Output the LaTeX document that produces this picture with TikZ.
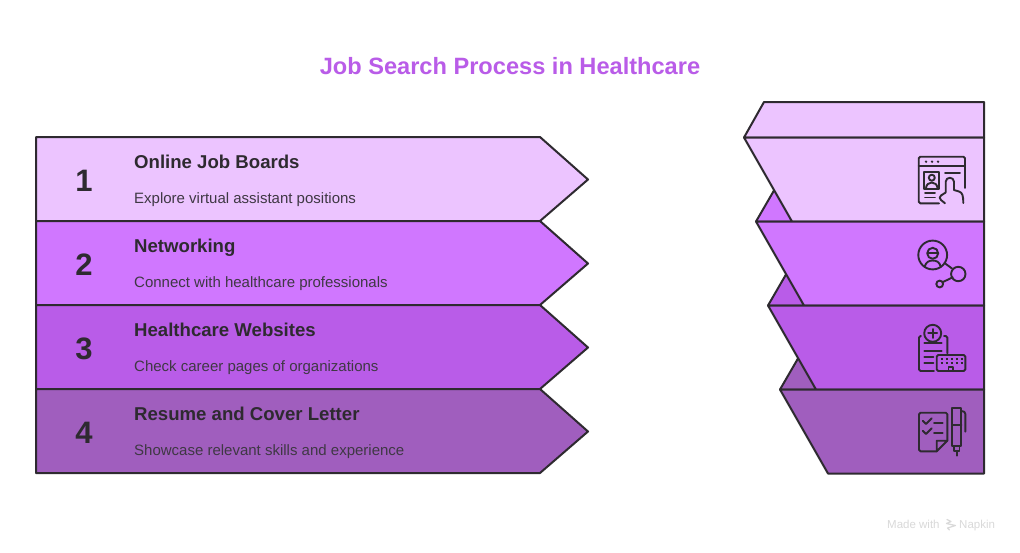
\documentclass[tikz,border=0pt]{standalone}
\usepackage{fontspec}
\setmainfont{Liberation Sans}
\definecolor{inkc}{HTML}{2E2A30}
\definecolor{descc}{HTML}{3F3844}
\definecolor{lvla}{HTML}{ECC4FF}
\definecolor{lvlb}{HTML}{D077FF}
\definecolor{lvlc}{HTML}{B95CE8}
\definecolor{lvld}{HTML}{A05EBE}
\definecolor{titlec}{HTML}{B95CE8}
\definecolor{markc}{HTML}{D9D9D9}
\tikzset{
  x=1pt,y=-1pt,
  band/.style={draw=inkc,line width=2pt,line join=round},
  icon/.style={draw=inkc,line width=1.9pt,line cap=round,line join=round,rounded corners=1.5pt},
  iconsharp/.style={draw=inkc,line width=1.9pt,line cap=round,line join=round},
  heading/.style={anchor=base west,inner sep=0pt,text=inkc,font=\fontsize{18.6}{20}\selectfont\bfseries},
  desc/.style={anchor=base west,inner sep=0pt,text=descc,font=\fontsize{15}{17}\selectfont},
  numeral/.style={anchor=center,inner sep=0pt,text=inkc,font=\fontsize{31}{34}\selectfont\bfseries},
  madewith/.style={anchor=base west,inner sep=0pt,text=markc,font=\fontsize{11.5}{13}\selectfont}
}
\begin{document}
\begin{tikzpicture}
\useasboundingbox (0,0) rectangle (1020,552);
\fill[white] (0,0) rectangle (1020,552);
\node[anchor=center,inner sep=0pt,text=titlec,font=\fontsize{23.6}{28}\selectfont\bfseries] (title) at (510,66) {Job Search Process in Healthcare};

% left arrows
\draw[band,fill=lvla] (36,137)--(540,137)--(588,179.5)--(540,221)--(36,221)--cycle;
\draw[band,fill=lvlb] (36,221)--(540,221)--(588,263.5)--(540,305)--(36,305)--cycle;
\draw[band,fill=lvlc] (36,305)--(540,305)--(588,347.5)--(540,389)--(36,389)--cycle;
\draw[band,fill=lvld] (36,389)--(540,389)--(588,431.5)--(540,473)--(36,473)--cycle;

\node[numeral] (numa) at (84,180.5) {1};
\node[numeral] (numb) at (84,264.5) {2};
\node[numeral] (numc) at (84,348.5) {3};
\node[numeral] (numd) at (84,432.5) {4};

\node[heading] (heada) at (134,168.5) {Online Job Boards};
\node[heading] (headb) at (134,252.5) {Networking};
\node[heading] (headc) at (134,336.5) {Healthcare Websites};
\node[heading] (headd) at (134,420.5) {Resume and Cover Letter};
\node[desc] (desca) at (134,203) {Explore virtual assistant positions};
\node[desc] (descb) at (134,287) {Connect with healthcare professionals};
\node[desc] (descc) at (134,371) {Check career pages of organizations};
\node[desc] (descd) at (134,455) {Showcase relevant skills and experience};

% right fold
\draw[band,fill=lvla] (744,137.5)--(764,102)--(984,102)--(984,137.5)--cycle;
\draw[band,fill=lvlb] (756,221.5)--(776,187)--(792,221.5)--cycle;
\draw[band,fill=lvlc] (768,305.5)--(788,271)--(804,305.5)--cycle;
\draw[band,fill=lvld] (780,389.5)--(800,355)--(816,389.5)--cycle;
\draw[band,fill=lvla] (744,137.5)--(984,137.5)--(984,221.5)--(792,221.5)--cycle;
\draw[band,fill=lvlb] (756,221.5)--(984,221.5)--(984,305.5)--(804,305.5)--cycle;
\draw[band,fill=lvlc] (768,305.5)--(984,305.5)--(984,389.5)--(816,389.5)--cycle;
\draw[band,fill=lvld] (780,389.5)--(984,389.5)--(984,473.5)--(828,473.5)--cycle;

% icon 1: browser and hand
\draw[icon] (939,203.3)--(918.7,203.3)--(918.7,156.7)--(965,156.7)--(965,188);
\draw[iconsharp] (918.7,166)--(965,166);
\fill[inkc] (926,161.7) circle (1.3) (932,161.7) circle (1.3) (938,161.7) circle (1.3);
\draw[iconsharp] (924.3,172.3) rectangle (939.3,189);
\draw[iconsharp] (931.8,177.7) circle (3);
\draw[iconsharp] (926,188.5) .. controls (926,180.5) and (937.5,180.5) .. (937.5,188.5);
\draw[iconsharp] (925,192.7)--(935,192.7) (925,197.5)--(935,197.5);
\draw[iconsharp] (945,172.7)--(960,172.7);
\draw[iconsharp] (945.7,192)--(945.7,181.7) .. controls (945.7,176.5) and (954,176.5) .. (954,181.7)--(954,190)--(959,191.5) .. controls (962.5,192.5) and (963.3,196) .. (963.3,203);
\draw[iconsharp] (945.7,192.5)--(941,195.5) .. controls (939,197) and (939.5,198.5) .. (941,200)--(945,203.3);

% icon 2: person and network
\draw[iconsharp] (932.7,255) circle (14.4);
\draw[iconsharp] (932.7,253.3) circle (5.5);
\draw[iconsharp] (927.5,253.3)--(938,253.3);
\draw[iconsharp] (924.7,266.5) .. controls (926,262) and (929,260.5) .. (932.7,260.5) .. controls (936.5,260.5) and (939.5,262) .. (940.7,266.5);
\draw[iconsharp] (944.5,263)--(952,268.5);
\draw[iconsharp] (958.3,274) circle (7.2);
\draw[iconsharp] (952.7,277.3)--(943,282);
\draw[iconsharp] (939.7,284) circle (3.4);

% icon 3: clipboard and building
\draw[iconsharp] (932.7,333.3) circle (8.5);
\draw[iconsharp] (932.7,329)--(932.7,337.8) (928.2,333.3)--(937.2,333.3);
\draw[icon] (921,336)--(919,336)--(919,371)--(934,371);
\draw[icon] (944,336)--(947.3,336)--(947.3,353.3);
\draw[iconsharp] (924.3,343.3)--(941.7,343.3) (924.3,350.7)--(941.7,350.7) (924.3,357.3)--(933.3,357.3) (924.3,362.7)--(933.3,362.7);
\draw[icon] (936.7,355) rectangle (965.3,371);
\draw[draw=inkc,line width=1.8pt,dash pattern=on 2.5pt off 2.5pt] (940.5,359.2)--(963,359.2) (940.5,362.8)--(963,362.8);
\draw[iconsharp] (948.5,371)--(948.5,366.7)--(952.7,366.7)--(952.7,371);

% icon 4: checklist and pen
\draw[icon] (936.7,451.3)--(919,451.3)--(919,412.7)--(947.3,412.7)--(947.3,440.7);
\draw[iconsharp] (947.3,440.7)--(936.7,451.3)--(936.7,440.7)--cycle;
\draw[iconsharp] (922.7,420.7)--(926,424)--(931.7,418.3) (922.7,430.7)--(926,434)--(931.7,428.3);
\draw[iconsharp] (934,423)--(942.7,423) (934,433)--(942.7,433);
\draw[iconsharp] (952.3,408.3) rectangle (961.3,446);
\draw[iconsharp] (952.3,424.7)--(961.3,424.7);
\draw[iconsharp] (954.3,446)--(954.3,451)--(959.5,451)--(959.5,446);
\draw[iconsharp] (957,451)--(957,455.7);
\draw[iconsharp] (961.3,411) .. controls (964,411) and (965.3,412) .. (965.3,414)--(965.3,431.7);

% watermark
\node[madewith] (madew) at (887,528.5) {Made with};
\node[madewith] (napk) at (959,528.5) {Napkin};
\draw[markc,line width=1.2pt,line cap=round,line join=round] (947,519.5)--(951,521.5)--(946.5,523.5)--(955.5,525.5)--(947.5,528)--(949.5,530);
\end{tikzpicture}
\end{document}
